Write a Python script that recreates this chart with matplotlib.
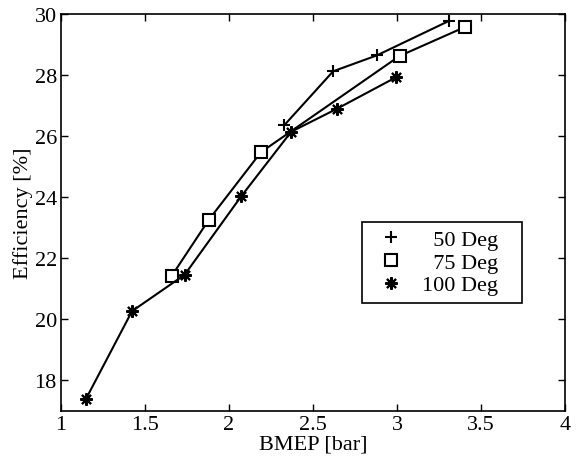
import matplotlib
matplotlib.use("Agg")
import matplotlib.pyplot as plt

plt.rcParams['font.family'] = ['Liberation Serif', 'DejaVu Serif']

# data
bmep_50 = [2.33, 2.62, 2.88, 3.31]
eff_50 = [26.36, 28.12, 28.64, 29.77]

bmep_75 = [1.66, 1.88, 2.19, 3.015, 3.405]
eff_75 = [21.43, 23.26, 25.47, 28.62, 29.57]

bmep_100 = [1.15, 1.423, 1.736, 2.073, 2.37, 2.645, 2.993]
eff_100 = [17.41, 20.27, 21.46, 24.03, 26.14, 26.90, 27.92]

labels = ['  50 Deg', '  75 Deg', '100 Deg']
fs = 16

fig = plt.figure(figsize=(5.83, 4.64), dpi=100)
ax = fig.add_axes([0.1046, 0.112, 0.8645, 0.856])

lw = 1.5
ax.plot(bmep_50, eff_50, color='k', lw=lw, marker='+', ms=9, mew=1.5, label=labels[0])
ax.plot(bmep_75, eff_75, color='k', lw=lw, marker='s', ms=8, mfc='white', mew=1.5, label=labels[1])
ax.plot(bmep_100, eff_100, color='k', lw=lw, marker=(8, 2, 0), ms=9, mew=1.5, label=labels[2])

ax.set_xlim(1, 4)
ax.set_ylim(17, 30)
ax.set_xticks([1, 1.5, 2, 2.5, 3, 3.5, 4])
ax.set_xticklabels(['1', '1.5', '2', '2.5', '3', '3.5', '4'])
ax.set_yticks([18, 20, 22, 24, 26, 28, 30])
ax.tick_params(direction='in', top=True, right=True, length=5, width=1, labelsize=fs)
ax.tick_params(axis='x', pad=3)
ax.tick_params(axis='y', pad=3)
for s in ax.spines.values():
    s.set_linewidth(1.2)

ax.set_xlabel('BMEP [bar]', fontsize=fs, labelpad=0)
ax.set_ylabel('Efficiency [%]', fontsize=fs, labelpad=1)

# legend, markers only
handles, _ = ax.get_legend_handles_labels()
leg_handles = []
for h in handles:
    leg_handles.append(plt.Line2D([], [], color='k', ls='none', marker=h.get_marker(),
                                  ms=h.get_markersize(), mew=1.5, mfc=h.get_markerfacecolor()))
leg = ax.legend(leg_handles, [l + '   ' for l in labels], loc='upper left',
                bbox_to_anchor=(2.79, 23.2),
                bbox_transform=ax.transData, borderaxespad=0, fancybox=False,
                edgecolor='k', framealpha=1, fontsize=fs, handlelength=1.9,
                handletextpad=0.45, labelspacing=0.1, borderpad=0.35)
leg.get_frame().set_linewidth(1.2)

fig.savefig('out.png', dpi=100)
